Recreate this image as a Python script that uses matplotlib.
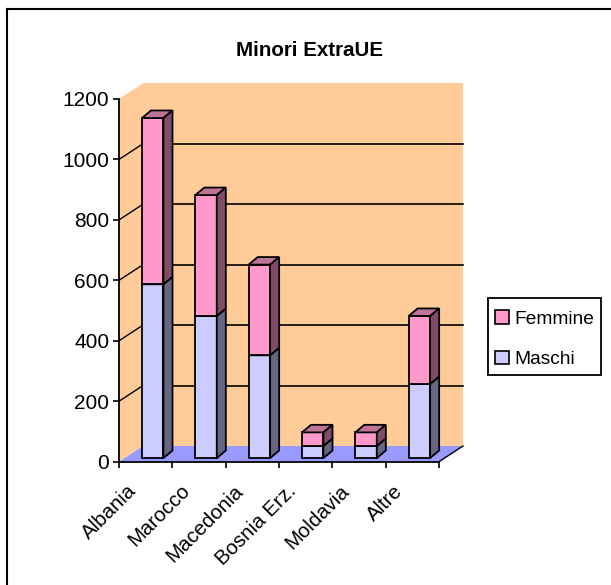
import matplotlib
matplotlib.use('Agg')
import matplotlib.pyplot as plt
from matplotlib.lines import Line2D
from matplotlib.patches import Patch, Polygon, Rectangle

plt.rcParams['font.family'] = ['Liberation Sans', 'DejaVu Sans']

categories = ['Albania', 'Marocco', 'Macedonia', 'Bosnia Erz.', 'Moldavia', 'Altre']
maschi = [575, 470, 340, 40, 40, 245]
femmine = [550, 400, 300, 45, 45, 225]
y_ticks = [0, 200, 400, 600, 800, 1000, 1200]

WALL = '#FFCC99'
FLOOR = '#9999FF'
# front, top, side
COL_M = ('#CCCCFF', '#9999BF', '#666680')
COL_F = ('#FF99CC', '#BF7399', '#804D66')

# depth of the 3d box, in axis units
DX = 0.45
DY = 52
# bar placement inside the box
BAR_W = 0.403
BAR_SHIFT = 0.43
BAR_LIFT = 12
BAR_DX = 0.17
BAR_DY = 25


def poly(ax, pts, fc, ec='none', lw=0, z=1):
    ax.add_patch(Polygon(pts, closed=True, facecolor=fc, edgecolor=ec,
                         linewidth=lw, zorder=z, clip_on=False, joinstyle='miter'))


def box(ax, x0, y0, y1, cols, z):
    x1 = x0 + BAR_W
    lw = 1.3
    poly(ax, [(x0, y0), (x1, y0), (x1, y1), (x0, y1)], cols[0], 'k', lw, z)
    poly(ax, [(x0, y1), (x1, y1), (x1 + BAR_DX, y1 + BAR_DY), (x0 + BAR_DX, y1 + BAR_DY)],
         cols[1], 'k', lw, z)
    poly(ax, [(x1, y0), (x1 + BAR_DX, y0 + BAR_DY), (x1 + BAR_DX, y1 + BAR_DY), (x1, y1)],
         cols[2], 'k', lw, z)


fig = plt.figure(figsize=(6.11, 5.85), dpi=100)
ax = fig.add_axes([119 / 611, 1 - 461.7 / 585, 320 / 611, 362.7 / 585])
ax.set_xlim(0, len(categories))
ax.set_ylim(0, 1200)
ax.patch.set_visible(False)

# outer frame, cut by the image on the right and at the bottom
fig.add_artist(Line2D([7 / 611, 7 / 611], [0, 1 - 9 / 585], color='k', lw=1.5))
fig.add_artist(Line2D([7 / 611, 1], [1 - 9 / 585, 1 - 9 / 585], color='k', lw=1.5))

n = len(categories)
poly(ax, [(0, 0), (DX, DY), (DX, 1200 + DY), (0, 1200)], WALL)
poly(ax, [(DX, DY), (n + DX, DY), (n + DX, 1200 + DY), (DX, 1200 + DY)], WALL)
poly(ax, [(0, 0), (n, 0), (n + DX, DY), (DX, DY)], FLOOR)

for v in y_ticks[1:-1]:
    ax.plot([DX, n + DX], [v + DY, v + DY], color='k', lw=1.2, zorder=2, clip_on=False)
    ax.plot([0, DX], [v, v + DY], color='k', lw=1.0, zorder=2, clip_on=False)
ax.plot([n, n + DX], [0, DY], color='k', lw=1.0, zorder=2, clip_on=False)

for i in range(n):
    x0 = i + BAR_SHIFT
    y0 = BAR_LIFT
    box(ax, x0, y0, y0 + maschi[i], COL_M, 3 + i)
    box(ax, x0, y0 + maschi[i], y0 + maschi[i] + femmine[i], COL_F, 3 + i)

for s in ('top', 'right'):
    ax.spines[s].set_visible(False)
for s in ('left', 'bottom'):
    ax.spines[s].set_linewidth(1.3)
    ax.spines[s].set_zorder(20)

ax.set_yticks(y_ticks)
ax.set_xticks(range(n + 1))
ax.set_xticklabels([])
ax.tick_params(axis='both', length=4, width=1.2, color='k')
ax.tick_params(axis='y', labelsize=15, pad=3)

for i, c in enumerate(categories):
    ax.annotate(c, (i + 0.5, 0), xytext=(-9, -19), textcoords='offset points',
                rotation=45, ha='right', va='center', rotation_mode='anchor',
                fontsize=14.8, annotation_clip=False)

fig.text(310 / 611, 1 - 50 / 585, 'Minori ExtraUE', ha='center', va='center',
         fontsize=14.8, fontweight='bold')

# legend box drawn apart, its padding differs between x and y
fig.add_artist(Rectangle((488 / 611, 1 - 375 / 585), 112.5 / 611, 77 / 585, facecolor='white',
                         edgecolor='k', linewidth=1.3, transform=fig.transFigure))
handles = [Patch(facecolor=COL_F[0], edgecolor='k', linewidth=1.2, label='Femmine'),
           Patch(facecolor=COL_M[0], edgecolor='k', linewidth=1.2, label='Maschi')]
leg = fig.legend(handles=handles, loc='upper left',
                 bbox_to_anchor=(495 / 611, 1 - 310 / 585), borderaxespad=0, borderpad=0,
                 fontsize=13.8, frameon=False,
                 handlelength=0.72, handleheight=0.72, handletextpad=0.3,
                 labelspacing=1.2)

fig.savefig('out.png', dpi=100, facecolor='white')
